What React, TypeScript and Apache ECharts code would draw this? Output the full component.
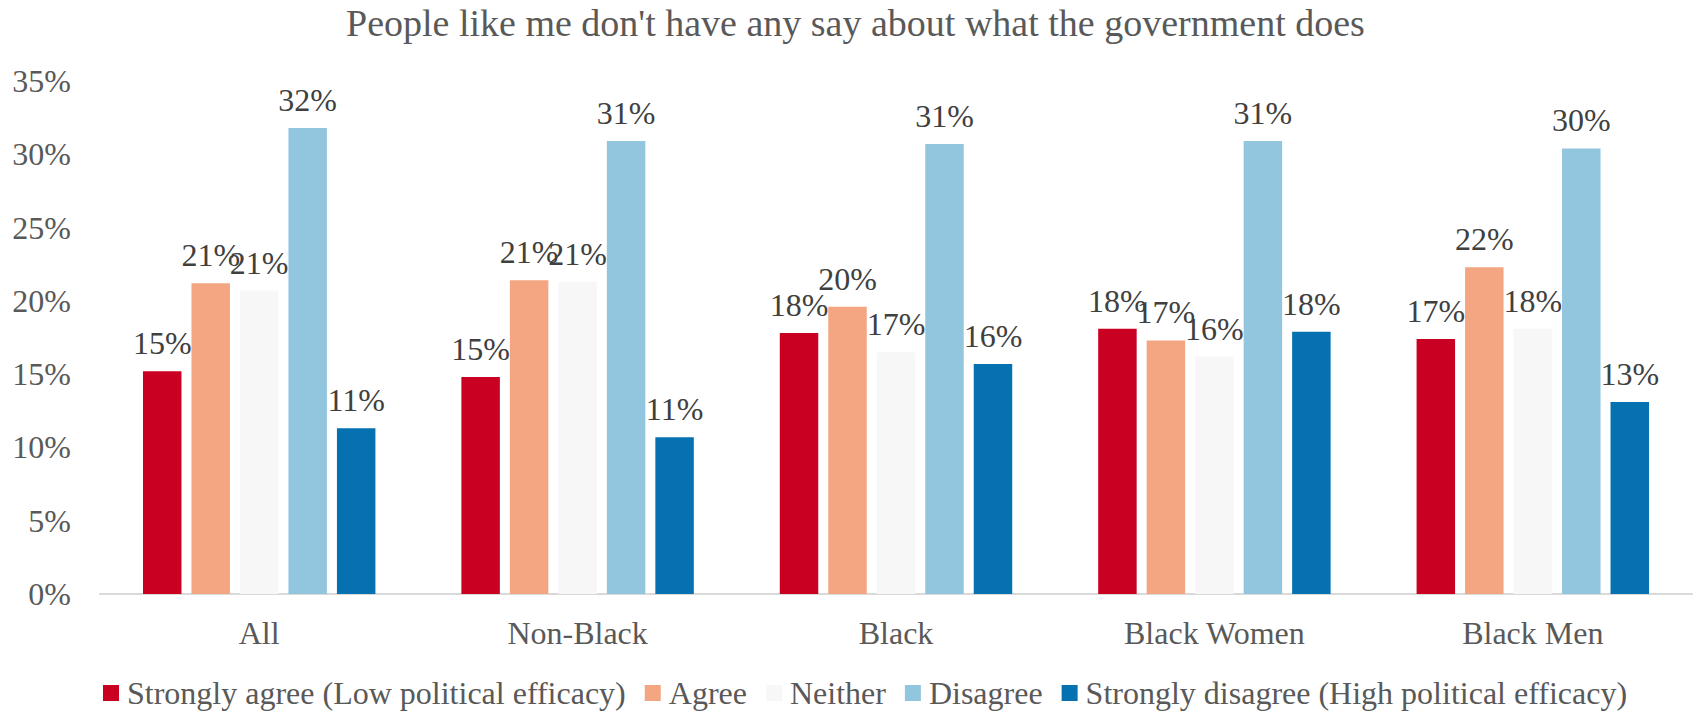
import React, { useEffect, useRef } from "react";
import * as echarts from "echarts";

const categories = ["All", "Non-Black", "Black", "Black Women", "Black Men"];
const seriesNames = [
  "Strongly agree (Low political efficacy)",
  "Agree",
  "Neither",
  "Disagree",
  "Strongly disagree (High political efficacy)",
];
const stronglyAgree = [15.2, 14.8, 17.8, 18.1, 17.4];
const agree = [21.2, 21.4, 19.6, 17.3, 22.3];
const neither = [20.7, 21.3, 16.5, 16.2, 18.1];
const disagree = [31.8, 30.9, 30.7, 30.9, 30.4];
const stronglyDisagree = [11.3, 10.7, 15.7, 17.9, 13.1];
const yTicks = [0, 5, 10, 15, 20, 25, 30, 35];
const colors = ["#C90022", "#F4A582", "#F7F7F7", "#92C5DE", "#0571B0"];

const FONT = "Liberation Serif";

export default function App() {
  const ref = useRef<HTMLDivElement>(null);
  useEffect(() => {
    document.body.style.margin = "0";
    if (!ref.current) return;
    const chart = echarts.init(ref.current, undefined, { renderer: "svg" });
    const values = [stronglyAgree, agree, neither, disagree, stronglyDisagree];
    chart.setOption({
      animation: false,
      textStyle: { fontFamily: FONT },
      title: {
        text: "People like me don't have any say about what the government does",
        left: 346,
        top: 4,
        padding: 0,
        textStyle: { fontFamily: FONT, fontSize: 38, fontWeight: "normal", color: "#595959" },
      },
      legend: {
        top: 677,
        left: 103,
        padding: 0,
        icon: "rect",
        itemWidth: 16,
        itemHeight: 16,
        itemGap: 19,
        textStyle: { fontFamily: FONT, fontSize: 32, color: "#595959", padding: [0, 0, 0, 3] },
        data: seriesNames,
      },
      grid: { left: 100, right: 2, top: 81, bottom: 118 },
      xAxis: {
        type: "category",
        data: categories,
        axisLine: { lineStyle: { color: "#D9D9D9", width: 2 } },
        axisTick: { show: false },
        axisLabel: { fontFamily: FONT, fontSize: 32, color: "#595959", margin: 23 },
      },
      yAxis: {
        type: "value",
        min: yTicks[0],
        max: yTicks[yTicks.length - 1],
        interval: 5,
        splitLine: { show: false },
        axisLine: { show: false },
        axisTick: { show: false },
        axisLabel: {
          fontFamily: FONT,
          fontSize: 32,
          color: "#595959",
          margin: 29,
          formatter: (v: number) => `${v}%`,
        },
      },
      series: seriesNames.map((name, i) => ({
        name,
        type: "bar",
        data: values[i],
        barGap: "26%",
        barCategoryGap: "27%",
        itemStyle: { color: colors[i] },
        label: {
          show: true,
          position: "top",
          distance: 12,
          fontFamily: FONT,
          fontSize: 32,
          color: "#404040",
          formatter: (p: any) => `${Math.round(p.value)}%`,
        },
      })),
    });
    return () => chart.dispose();
  }, []);
  return <div ref={ref} style={{ width: 1694, height: 712 }} />;
}
